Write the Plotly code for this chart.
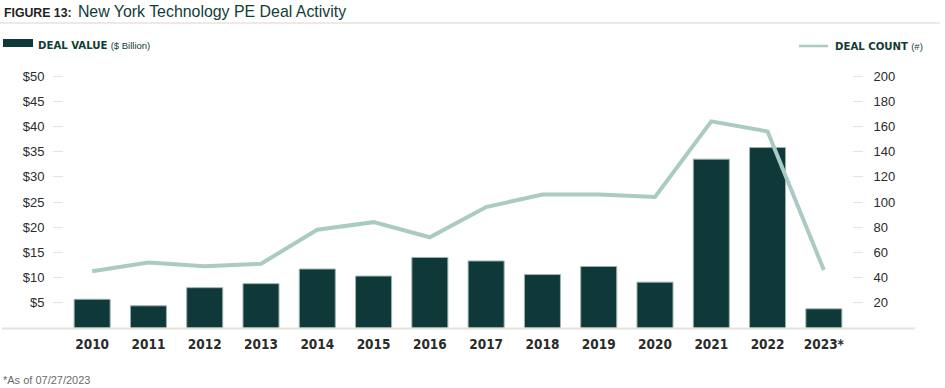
import plotly.graph_objects as go

years = ["2010", "2011", "2012", "2013", "2014", "2015", "2016", "2017",
         "2018", "2019", "2020", "2021", "2022", "2023*"]
deal_value = [5.7, 4.4, 8.0, 8.8, 11.7, 10.3, 14.0, 13.3, 10.6, 12.2, 9.1, 33.5, 35.8, 3.8]
deal_count = [45, 52, 49, 51, 78, 84, 72, 96, 106, 106, 104, 164, 156, 46]
left_ticks = [5, 10, 15, 20, 25, 30, 35, 40, 45, 50]
left_labels = ["$" + str(v) for v in left_ticks]
right_ticks = [20, 40, 60, 80, 100, 120, 140, 160, 180, 200]

W, H = 945, 388
ML, MR, MT, MB = 64, 93, 76, 60
PW, PH = W - ML - MR, H - MT - MB

def px(x):
    return (x - ML) / PW

def py(y):
    return (H - MB - y) / PH

BAR = "#0f3838"
LINE = "#a9cbc3"
BEIGE = "#e7e3dc"
TXT = "#2b2b2b"
NARROW = "DejaVu Sans Condensed"
SANS = "Liberation Sans, Arial, sans-serif"

fig = go.Figure()
fig.add_trace(go.Bar(x=years, y=deal_value, marker_color=BAR,
                     marker_line=dict(color="#9db3ae", width=1),
                     name="DEAL VALUE", yaxis="y"))
fig.add_trace(go.Scatter(x=years, y=deal_count, mode="lines",
                         line=dict(color=LINE, width=4),
                         name="DEAL COUNT", yaxis="y2"))

fig.update_layout(
    width=W, height=H,
    margin=dict(l=ML, r=MR, t=MT, b=MB, pad=0),
    paper_bgcolor="white", plot_bgcolor="white",
    showlegend=False,
    bargap=0.36,
    xaxis=dict(showgrid=False, zeroline=False, showline=False, ticks="",
               tickfont=dict(family=NARROW, size=13.5, color=TXT, weight="bold"),
               ticklabelstandoff=6),
    yaxis=dict(range=[0, 50], tickvals=left_ticks, ticktext=left_labels,
               showgrid=False, zeroline=False, showline=False,
               ticks="outside", ticklen=10, tickcolor=BEIGE, tickwidth=1,
               tickfont=dict(family=SANS, size=13, color=TXT),
               ticklabelstandoff=6),
    yaxis2=dict(range=[0, 200], tickvals=right_ticks, overlaying="y", side="right",
                showgrid=False, zeroline=False, showline=False,
                ticks="outside", ticklen=10, tickcolor=BEIGE, tickwidth=1,
                tickfont=dict(family=SANS, size=13, color=TXT),
                ticklabelstandoff=8),
)

shapes = [
    dict(type="line", xref="paper", yref="paper", x0=px(2), x1=px(915), y0=py(328.5), y1=py(328.5),
         line=dict(color=BEIGE, width=2), layer="above"),
    dict(type="line", xref="paper", yref="paper", x0=px(0), x1=px(940), y0=py(23), y1=py(23),
         line=dict(color=BEIGE, width=1.5)),
    dict(type="rect", xref="paper", yref="paper", x0=px(3), x1=px(33), y0=py(47), y1=py(39),
         fillcolor=BAR, line=dict(width=0)),
    dict(type="line", xref="paper", yref="paper", x0=px(799), x1=px(828), y0=py(46), y1=py(46),
         line=dict(color=LINE, width=2.5)),
]
fig.update_layout(shapes=shapes)

annotations = [
    dict(xref="paper", yref="paper", x=px(2), y=py(12), xanchor="left", yanchor="middle",
         showarrow=False,
         text="<b><span style='font-family:Liberation Sans, Arial; font-size:12.3px; color:#222'>FIGURE 13:</span></b>"
              "  <span style='font-family:Liberation Sans, Arial; font-size:15.9px; color:#123c38'>New York Technology PE Deal Activity</span>"),
    dict(xref="paper", yref="paper", x=px(36), y=py(44), xanchor="left", yanchor="middle",
         showarrow=False,
         text="<b><span style='font-family:DejaVu Sans Condensed; font-size:11.3px; color:#123c38'>DEAL VALUE</span></b>"
              " <span style='font-family:Liberation Sans, Arial; font-size:9.5px; color:#123c38'>($ Billion)</span>"),
    dict(xref="paper", yref="paper", x=px(833), y=py(45), xanchor="left", yanchor="middle",
         showarrow=False,
         text="<b><span style='font-family:DejaVu Sans Condensed; font-size:11.3px; color:#123c38'>DEAL COUNT</span></b>"
              " <span style='font-family:Liberation Sans, Arial; font-size:9.5px; color:#123c38'>(#)</span>"),
    dict(xref="paper", yref="paper", x=px(1), y=py(380), xanchor="left", yanchor="middle",
         showarrow=False,
         text="*As of 07/27/2023", font=dict(family=SANS, size=11, color="#6a6a6a")),
]
fig.update_layout(annotations=annotations)

fig.write_html("out.html", config={"displayModeBar": False},
               post_script="document.body.style.margin='0';document.body.style.overflow='hidden';")
